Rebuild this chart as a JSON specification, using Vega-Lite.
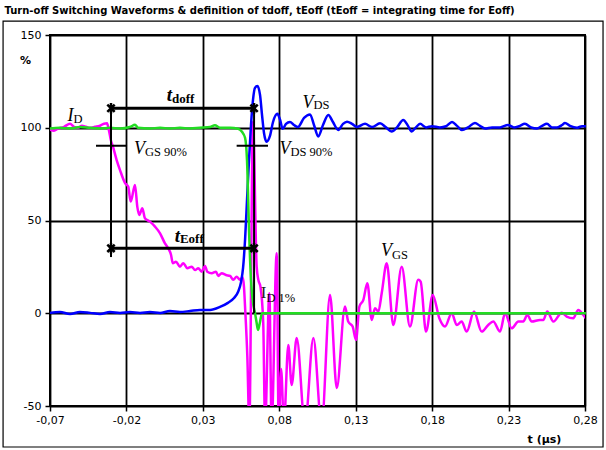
{
"$schema": "https://vega.github.io/schema/vega-lite/v6.json",
"width": 535, "height": 371,
"autosize": {"type": "none"},
"padding": {"left": 50, "top": 35, "right": 21, "bottom": 44},
"background": "white",
"title": {"text": "Turn-off Switching Waveforms & definition of tdoff, tEoff (tEoff = integrating time for Eoff)", "anchor": "start", "frame": "bounds", "font": "DejaVu Sans", "fontSize": 10, "fontWeight": "bold", "offset": 4, "dx": 2, "color": "black"},
"config": {"view": {"stroke": "black", "strokeWidth": 2}},
"datasets": {
"frame": [{"t": -0.1007, "t2": 0.2918, "v": 157.5, "v2": -72.1}],
"vgs": [{"t":-0.0700,"v":98.9},{"t":-0.0674,"v":98.4},{"t":-0.0648,"v":99.5},{"t":-0.0608,"v":100.5},{"t":-0.0569,"v":102.2},{"t":-0.0543,"v":100.5},{"t":-0.0517,"v":100},{"t":-0.0491,"v":101.1},{"t":-0.0464,"v":100.5},{"t":-0.0438,"v":100},{"t":-0.0406,"v":100.5},{"t":-0.0373,"v":101.1},{"t":-0.0347,"v":102.2},{"t":-0.0327,"v":102.4},{"t":-0.0314,"v":98.4},{"t":-0.0301,"v":93.0},{"t":-0.0290,"v":90.3},{"t":-0.0264,"v":82.6},{"t":-0.0242,"v":77.2},{"t":-0.0209,"v":70.2},{"t":-0.0188,"v":68.2},{"t":-0.0172,"v":60.2},{"t":-0.0144,"v":69.2},{"t":-0.0129,"v":57.5},{"t":-0.0116,"v":53.0},{"t":-0.0096,"v":56.6},{"t":-0.0079,"v":51.2},{"t":-0.0046,"v":49.4},{"t":-0.0013,"v":46.7},{"t":0.0020,"v":43.1},{"t":0.0052,"v":37.7},{"t":0.0074,"v":35.0},{"t":0.0092,"v":31.4},{"t":0.0103,"v":27.0},{"t":0.0124,"v":27.8},{"t":0.0150,"v":25.1},{"t":0.0172,"v":27.0},{"t":0.0198,"v":24.3},{"t":0.0227,"v":25.1},{"t":0.0249,"v":23.3},{"t":0.0270,"v":24.3},{"t":0.0292,"v":22.4},{"t":0.0314,"v":25.5},{"t":0.0329,"v":22.4},{"t":0.0358,"v":21.6},{"t":0.0386,"v":22.4},{"t":0.0401,"v":20.1},{"t":0.0423,"v":21.6},{"t":0.0451,"v":20.6},{"t":0.0478,"v":20.1},{"t":0.0499,"v":18.0},{"t":0.0521,"v":19.7},{"t":0.0543,"v":18.0},{"t":0.0561,"v":19.4},{"t":0.0569,"v":14.3},{"t":0.0576,"v":3.6},{"t":0.0591,"v":-23.4},{"t":0.0604,"v":-60},{"t":0.0628,"v":103.1},{"t":0.0652,"v":25.1},{"t":0.0663,"v":18.0},{"t":0.0677,"v":14.2},{"t":0.0695,"v":-5.2},{"t":0.0707,"v":-60},{"t":0.0735,"v":10.8},{"t":0.0750,"v":-60},{"t":0.0783,"v":32.3},{"t":0.0796,"v":-60},{"t":0.0812,"v":-30},{"t":0.0830,"v":-60},{"t":0.0859,"v":-17.1},{"t":0.0881,"v":-38.7},{"t":0.0914,"v":-13.3},{"t":0.0968,"v":-60},{"t":0.1023,"v":-13.3},{"t":0.1077,"v":-60},{"t":0.1132,"v":9.9},{"t":0.1176,"v":-40.3},{"t":0.1230,"v":3.6},{"t":0.1251,"v":-4.5},{"t":0.1280,"v":-7.2},{"t":0.1302,"v":-14.4},{"t":0.1324,"v":3.6},{"t":0.1350,"v":7.2},{"t":0.1376,"v":16.2},{"t":0.1405,"v":-3.6},{"t":0.1426,"v":2.7},{"t":0.1448,"v":0.9},{"t":0.1470,"v":10.8},{"t":0.1503,"v":27.0},{"t":0.1546,"v":-6.3},{"t":0.1601,"v":25.1},{"t":0.1655,"v":-7.2},{"t":0.1709,"v":18.0},{"t":0.1725,"v":17.0},{"t":0.1760,"v":-9.9},{"t":0.1804,"v":9.9},{"t":0.1847,"v":-2.7},{"t":0.1884,"v":-7.2},{"t":0.1928,"v":0},{"t":0.1961,"v":-6.3},{"t":0.1993,"v":-4.5},{"t":0.2026,"v":-9.9},{"t":0.2074,"v":0.9},{"t":0.2124,"v":-9.9},{"t":0.2167,"v":-6.3},{"t":0.2200,"v":-4.5},{"t":0.2244,"v":-9.9},{"t":0.2277,"v":0},{"t":0.2320,"v":-8.1},{"t":0.2364,"v":-4.5},{"t":0.2396,"v":-4.5},{"t":0.2423,"v":-0.9},{"t":0.2451,"v":-4.5},{"t":0.2506,"v":-3.6},{"t":0.2527,"v":-3.6},{"t":0.2553,"v":0.9},{"t":0.2593,"v":-4.5},{"t":0.2648,"v":0.3},{"t":0.2680,"v":-1.8},{"t":0.2723,"v":-2.7},{"t":0.2756,"v":1.8},{"t":0.2789,"v":-0.9},{"t":0.2805,"v":-2.7}],
"vds": [{"t":-0.0700,"v":0.2},{"t":-0.0635,"v":0.7},{"t":-0.0569,"v":-0.4},{"t":-0.0504,"v":0.7},{"t":-0.0438,"v":0.2},{"t":-0.0373,"v":-0.4},{"t":-0.0307,"v":0.7},{"t":-0.0242,"v":0.2},{"t":-0.0177,"v":0.7},{"t":-0.0111,"v":0.2},{"t":-0.0046,"v":0.7},{"t":0.0020,"v":0.2},{"t":0.0085,"v":1.2},{"t":0.0150,"v":0.7},{"t":0.0216,"v":1.2},{"t":0.0281,"v":1.8},{"t":0.0347,"v":1.8},{"t":0.0412,"v":3.4},{"t":0.0464,"v":5.6},{"t":0.0504,"v":8.2},{"t":0.0530,"v":11.5},{"t":0.0550,"v":16.9},{"t":0.0563,"v":24.4},{"t":0.0576,"v":39.5},{"t":0.0589,"v":61.1},{"t":0.0602,"v":82.6},{"t":0.0615,"v":101.5},{"t":0.0628,"v":115.0},{"t":0.0641,"v":121.5},{"t":0.0657,"v":122.5},{"t":0.0674,"v":117.7},{"t":0.0687,"v":106.9},{"t":0.0700,"v":97.2},{"t":0.0717,"v":92.5},{"t":0.0739,"v":95.6},{"t":0.0759,"v":103.1},{"t":0.0788,"v":107.5},{"t":0.0805,"v":104.3},{"t":0.0822,"v":99.4},{"t":0.0844,"v":102.1},{"t":0.0870,"v":103.1},{"t":0.0896,"v":101.5},{"t":0.0922,"v":100.4},{"t":0.0962,"v":105.3},{"t":0.1001,"v":107.2},{"t":0.1027,"v":101.5},{"t":0.1055,"v":95.3},{"t":0.1086,"v":101.5},{"t":0.1121,"v":106.9},{"t":0.1151,"v":103.1},{"t":0.1186,"v":98.8},{"t":0.1217,"v":102.1},{"t":0.1243,"v":103.3},{"t":0.1276,"v":102.1},{"t":0.1308,"v":100.4},{"t":0.1361,"v":102.1},{"t":0.1407,"v":100.4},{"t":0.1459,"v":102.4},{"t":0.1498,"v":100.2},{"t":0.1535,"v":98.0},{"t":0.1570,"v":100.2},{"t":0.1611,"v":104.2},{"t":0.1642,"v":101.0},{"t":0.1666,"v":98.0},{"t":0.1694,"v":100.2},{"t":0.1721,"v":102.1},{"t":0.1760,"v":100.2},{"t":0.1799,"v":100.8},{"t":0.1851,"v":100.2},{"t":0.1891,"v":100.8},{"t":0.1930,"v":103.1},{"t":0.1963,"v":101.0},{"t":0.1995,"v":98.8},{"t":0.2035,"v":100.2},{"t":0.2080,"v":102.6},{"t":0.2113,"v":101.0},{"t":0.2146,"v":99.6},{"t":0.2192,"v":100.2},{"t":0.2244,"v":100.2},{"t":0.2296,"v":101.5},{"t":0.2335,"v":100.2},{"t":0.2368,"v":100.8},{"t":0.2407,"v":102.1},{"t":0.2447,"v":100.2},{"t":0.2486,"v":99.6},{"t":0.2519,"v":101.0},{"t":0.2551,"v":102.1},{"t":0.2584,"v":100.2},{"t":0.2617,"v":100.2},{"t":0.2650,"v":101.5},{"t":0.2669,"v":102.6},{"t":0.2702,"v":101.0},{"t":0.2748,"v":100.0},{"t":0.2780,"v":100.8},{"t":0.2806,"v":100.8}],
"id": [{"t":-0.0700,"v":99.6},{"t":-0.0635,"v":100},{"t":-0.0569,"v":99.6},{"t":-0.0504,"v":100.4},{"t":-0.0438,"v":100},{"t":-0.0373,"v":99.6},{"t":-0.0307,"v":100},{"t":-0.0242,"v":99.6},{"t":-0.0177,"v":100.4},{"t":-0.0144,"v":101.6},{"t":-0.0124,"v":100},{"t":-0.0046,"v":99.6},{"t":0.0020,"v":100},{"t":0.0085,"v":99.6},{"t":0.0150,"v":100},{"t":0.0216,"v":99.6},{"t":0.0281,"v":100},{"t":0.0347,"v":100.4},{"t":0.0379,"v":101.3},{"t":0.0412,"v":100},{"t":0.0478,"v":100},{"t":0.0530,"v":99.5},{"t":0.0556,"v":97.8},{"t":0.0576,"v":94.6},{"t":0.0589,"v":82.2},{"t":0.0602,"v":44.9},{"t":0.0615,"v":17.9},{"t":0.0628,"v":5.6},{"t":0.0641,"v":0.2},{"t":0.0651,"v":-4.7},{"t":0.0661,"v":-9.0},{"t":0.0674,"v":-4.7},{"t":0.0687,"v":0},{"t":0.2806,"v":0}],
"hlines": [{"t": -0.0301, "t2": 0.0635, "v": 110.5}, {"t": -0.0301, "t2": 0.0635, "v": 35.0}],
"ticks90": [{"t": -0.0399, "t2": -0.0196, "v": 90.3}, {"t": 0.0521, "t2": 0.0726, "v": 90.3}],
"vlines": [{"t": -0.0301, "v": 113, "v2": 30.3}, {"t": 0.0635, "v": 113, "v2": 0}],
"markers": [{"t": -0.0301, "v": 110.5}, {"t": 0.0635, "v": 110.5}, {"t": -0.0301, "v": 35.0}, {"t": 0.0635, "v": 35.0}],
"italicMain": [{"t":-0.0546,"v":103.7,"txt":"I"},{"t":0.1024,"v":110.4,"txt":"V"},{"t":-0.0079,"v":85.6,"txt":"V"},{"t":0.0873,"v":85.6,"txt":"V"},{"t":0.1537,"v":30.6,"txt":"V"}],
"subs": [{"t":-0.0546,"v":102.8,"txt":"D"},{"t":0.1024,"v":109.9,"txt":"DS"},{"t":-0.0079,"v":84.6,"txt":"GS 90%"},{"t":0.0873,"v":84.6,"txt":"DS 90%"},{"t":0.1537,"v":29.3,"txt":"GS"},{"t":0.0716,"v":5.8,"txt":"D 1%"}],
"boldT": [{"t":0.0098,"v":114.6,"txt":"t"},{"t":0.0150,"v":38.6,"txt":"t"}],
"boldSubs": [{"t":0.0098,"v":113.6,"txt":"doff"},{"t":0.0150,"v":37.9,"txt":"Eoff"}],
"plainI": [{"t":0.0716,"v":8.1,"txt":"I"}]
},
"encoding": {
"x": {"field": "t", "type": "quantitative", "title": "t (µs)",
 "scale": {"domain": [-0.07, 0.28], "nice": false, "zero": false},
 "axis": {"values": [-0.07, -0.02, 0.03, 0.08, 0.13, 0.18, 0.23, 0.28],
  "labelExpr": "replace(replace(format(datum.value, '.2f'), '.', ','), '\u2212', '-')",
  "titleX": 494, "titleY": 36, "titleBaseline": "alphabetic", "titleFontWeight": "bold", "titleFontSize": 11, "titleFont": "DejaVu Sans", "titleColor": "black",
  "grid": true, "gridColor": "black", "gridWidth": 1.8, "gridOpacity": 1, "domain": false,
  "tickColor": "black", "tickWidth": 1.5, "tickSize": 5,
  "labelFont": "DejaVu Sans", "labelFontSize": 11, "labelColor": "black", "labelPadding": 3, "labelFlush": false}},
"y": {"field": "v", "type": "quantitative", "title": "%",
 "scale": {"domain": [-50, 150], "nice": false, "zero": false},
 "axis": {"values": [-50, 0, 50, 100, 150],
  "labelExpr": "replace(format(datum.value, 'd'), '\u2212', '-')",
  "titleAngle": 0, "titleX": -25, "titleY": 25, "titleAlign": "center", "titleBaseline": "middle", "titleFontWeight": "bold", "titleFontSize": 11, "titleFont": "DejaVu Sans", "titleColor": "black",
  "grid": true, "gridColor": "black", "gridWidth": 1.8, "gridOpacity": 1, "domain": false,
  "tickColor": "black", "tickWidth": 1.5, "tickSize": 5,
  "labelFont": "DejaVu Sans", "labelFontSize": 11, "labelColor": "black", "labelPadding": 4, "labelFlush": false}}
},
"layer": [
{"data": {"name": "frame"}, "mark": {"type": "rect", "filled": false, "color": "black", "strokeWidth": 1.2}, "encoding": {"x2": {"field": "t2"}, "y2": {"field": "v2"}}},
{"data": {"name": "vgs"}, "mark": {"type": "line", "color": "#FF00FF", "strokeWidth": 2.5, "interpolate": "monotone", "clip": true}},
{"data": {"name": "vds"}, "mark": {"type": "line", "color": "#0000FF", "strokeWidth": 2.5, "interpolate": "monotone"}},
{"data": {"name": "id"}, "mark": {"type": "line", "color": "#22DD22", "strokeWidth": 2.5, "interpolate": "monotone"}},
{"data": {"name": "hlines"}, "mark": {"type": "rule", "color": "black", "strokeWidth": 3}, "encoding": {"x2": {"field": "t2"}}},
{"data": {"name": "ticks90"}, "mark": {"type": "rule", "color": "black", "strokeWidth": 2}, "encoding": {"x2": {"field": "t2"}}},
{"data": {"name": "vlines"}, "mark": {"type": "rule", "color": "black", "strokeWidth": 2}, "encoding": {"y2": {"field": "v2"}}},
{"data": {"name": "markers"}, "mark": {"type": "point", "shape": "M-0.7,-0.7L0.7,0.7M0.7,-0.7L-0.7,0.7M0,-1L0,1", "filled": false, "color": "black", "strokeWidth": 2.5, "size": 110, "opacity": 1}},
{"data": {"name": "italicMain"}, "mark": {"type": "text", "font": "Liberation Serif", "fontStyle": "italic", "fontSize": 18, "align": "right", "baseline": "alphabetic", "color": "black"}, "encoding": {"text": {"field": "txt"}}},
{"data": {"name": "subs"}, "mark": {"type": "text", "font": "Liberation Serif", "fontSize": 12.5, "align": "left", "baseline": "alphabetic", "color": "black"}, "encoding": {"text": {"field": "txt"}}},
{"data": {"name": "boldT"}, "mark": {"type": "text", "font": "Liberation Serif", "fontStyle": "italic", "fontWeight": "bold", "fontSize": 19, "align": "right", "baseline": "alphabetic", "color": "black"}, "encoding": {"text": {"field": "txt"}}},
{"data": {"name": "boldSubs"}, "mark": {"type": "text", "font": "Liberation Serif", "fontWeight": "bold", "fontSize": 13, "align": "left", "baseline": "alphabetic", "color": "black"}, "encoding": {"text": {"field": "txt"}}},
{"data": {"name": "plainI"}, "mark": {"type": "text", "font": "Liberation Serif", "fontSize": 17, "align": "right", "baseline": "alphabetic", "color": "#222222"}, "encoding": {"text": {"field": "txt"}}}
]
}
